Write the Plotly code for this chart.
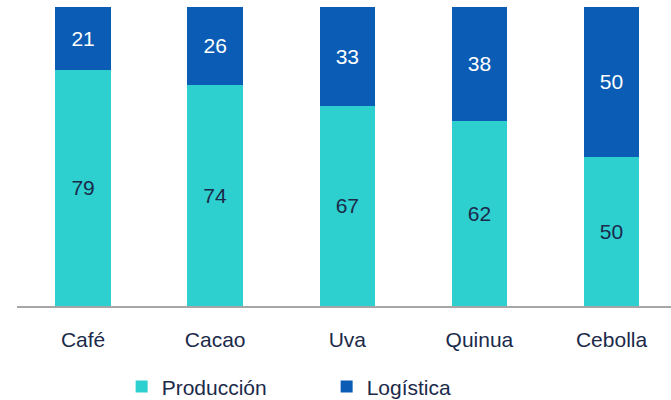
import plotly.graph_objects as go

categories = ["Café", "Cacao", "Uva", "Quinua", "Cebolla"]
produccion = [79, 74, 67, 62, 50]
logistica = [21, 26, 33, 38, 50]

CYAN = "#2ecfcf"
BLUE = "#0b5cb4"
TEXT = "#1b2a4a"
FONT = "Liberation Sans Narrow, Arial Narrow, Liberation Sans, Arial, sans-serif"
SIZE = 21

fig = go.Figure()
fig.add_trace(go.Bar(
    x=categories, y=produccion, name="Producción",
    marker=dict(color=CYAN, line=dict(width=0)),
    text=produccion, textposition="inside", insidetextanchor="middle",
    textfont=dict(color=TEXT, size=SIZE, family=FONT),
))
fig.add_trace(go.Bar(
    x=categories, y=logistica, name="Logística",
    marker=dict(color=BLUE, line=dict(width=0)),
    text=logistica, textposition="inside", insidetextanchor="middle",
    textfont=dict(color="white", size=SIZE, family=FONT),
))

fig.update_layout(
    barmode="stack",
    bargap=0.58,
    width=671, height=400,
    margin=dict(l=17, r=0, t=7, b=94),
    paper_bgcolor="white", plot_bgcolor="white",
    font=dict(family=FONT, color=TEXT, size=SIZE),
    showlegend=True,
    legend=dict(
        orientation="h", x=0.16, xanchor="left",
        yref="container", y=0.033, yanchor="middle",
        font=dict(size=SIZE, color=TEXT, family=FONT),
        entrywidth=160, entrywidthmode="pixels",
        itemwidth=30, traceorder="normal",
    ),
    uniformtext=dict(mode=False),
)
fig.update_xaxes(
    range=[-0.5, 4.45], showline=True, linecolor="#a6a6a6", linewidth=2,
    ticks="", tickfont=dict(size=SIZE, color=TEXT, family=FONT), ticklabelstandoff=14,
    automargin=False,
)
fig.update_yaxes(range=[0, 100], visible=False, showgrid=False, automargin=False)

fig.write_html("out.html")
